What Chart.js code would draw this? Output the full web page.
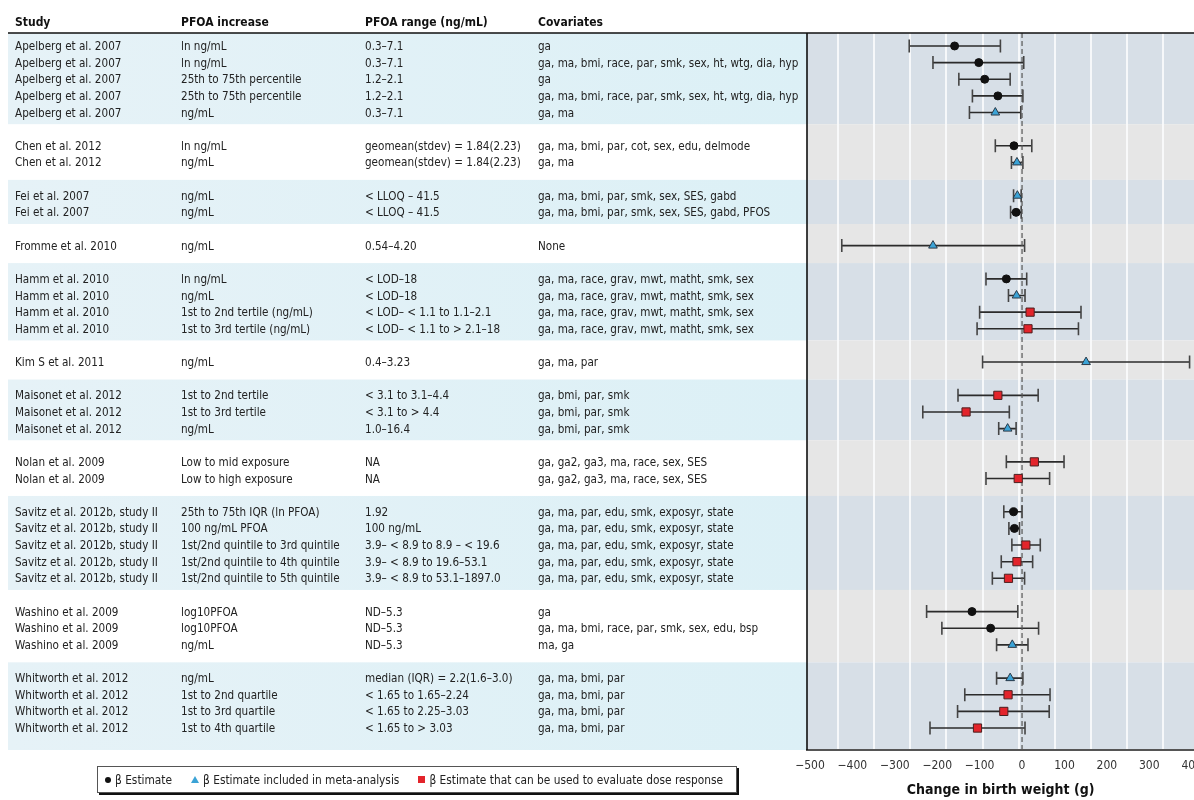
<!DOCTYPE html>
<html>
<head>
<meta charset="utf-8">
<script src="https://cdn.jsdelivr.net/npm/chart.js@4.4.1/dist/chart.umd.min.js"></script>
<style>
  body { margin: 0; background: #fff; }
  #wrap { position: relative; width: 1194px; height: 800px; overflow: hidden;
          font-family: "Liberation Sans Narrow", "Arial Narrow", "DejaVu Sans Condensed", sans-serif; }
  #chart { position: absolute; left: 0; top: 0; }
  .cell { position: absolute; font-size: 11.6px; color: #222; white-space: nowrap; line-height: 14px; }
  .head { font-weight: bold; color: #111; font-size: 12px; }
  #legend { position: absolute; left: 97px; top: 766px; width: 640px; height: 27px; box-sizing: border-box;
            border: 1px solid #555; box-shadow: 2px 2px 0 #111; background: #fff;
            display: flex; align-items: center; font-size: 11.8px; color: #222; padding-left: 7px; }
  #legend span.item { display: flex; align-items: center; margin-right: 19px; white-space: nowrap; }
  .g { display: inline-block; margin-right: 4px; }
  .g.est { width: 6px; height: 6px; border-radius: 50%; background: #111; }
  .g.meta { width: 0; height: 0; border-left: 4px solid transparent; border-right: 4px solid transparent; border-bottom: 7px solid #3ba3d6; }
  .g.dose { width: 7px; height: 7px; background: #e3242b; }
</style>
</head>
<body>
<div id="wrap">
  <canvas id="chart" width="1194" height="800"></canvas>
  <div id="table"></div>
  <div id="legend">
    <span class="item"><span class="g est"></span>β Estimate</span>
    <span class="item"><span class="g meta"></span>β Estimate included in meta-analysis</span>
    <span class="item"><span class="g dose"></span>β Estimate that can be used to evaluate dose response</span>
  </div>
</div>
<script>
// ---- data (one entry per row, top to bottom) ----
const studies = [
  'Apelberg et al. 2007', 'Apelberg et al. 2007', 'Apelberg et al. 2007', 'Apelberg et al. 2007', 'Apelberg et al. 2007',
  'Chen et al. 2012', 'Chen et al. 2012',
  'Fei et al. 2007', 'Fei et al. 2007',
  'Fromme et al. 2010',
  'Hamm et al. 2010', 'Hamm et al. 2010', 'Hamm et al. 2010', 'Hamm et al. 2010',
  'Kim S et al. 2011',
  'Maisonet et al. 2012', 'Maisonet et al. 2012', 'Maisonet et al. 2012',
  'Nolan et al. 2009', 'Nolan et al. 2009',
  'Savitz et al. 2012b, study II', 'Savitz et al. 2012b, study II', 'Savitz et al. 2012b, study II', 'Savitz et al. 2012b, study II', 'Savitz et al. 2012b, study II',
  'Washino et al. 2009', 'Washino et al. 2009', 'Washino et al. 2009',
  'Whitworth et al. 2012', 'Whitworth et al. 2012', 'Whitworth et al. 2012', 'Whitworth et al. 2012'
];
const increase = [
  'ln ng/mL', 'ln ng/mL', '25th to 75th percentile', '25th to 75th percentile', 'ng/mL',
  'ln ng/mL', 'ng/mL',
  'ng/mL', 'ng/mL',
  'ng/mL',
  'ln ng/mL', 'ng/mL', '1st to 2nd tertile (ng/mL)', '1st to 3rd tertile (ng/mL)',
  'ng/mL',
  '1st to 2nd tertile', '1st to 3rd tertile', 'ng/mL',
  'Low to mid exposure', 'Low to high exposure',
  '25th to 75th IQR (ln PFOA)', '100 ng/mL PFOA', '1st/2nd quintile to 3rd quintile', '1st/2nd quintile to 4th quintile', '1st/2nd quintile to 5th quintile',
  'log10PFOA', 'log10PFOA', 'ng/mL',
  'ng/mL', '1st to 2nd quartile', '1st to 3rd quartile', '1st to 4th quartile'
];
const ranges = [
  '0.3–7.1', '0.3–7.1', '1.2–2.1', '1.2–2.1', '0.3–7.1',
  'geomean(stdev) = 1.84(2.23)', 'geomean(stdev) = 1.84(2.23)',
  '< LLOQ – 41.5', '< LLOQ – 41.5',
  '0.54–4.20',
  '< LOD–18', '< LOD–18', '< LOD– < 1.1 to 1.1–2.1', '< LOD– < 1.1 to > 2.1–18',
  '0.4–3.23',
  '< 3.1 to 3.1–4.4', '< 3.1 to > 4.4', '1.0–16.4',
  'NA', 'NA',
  '1.92', '100 ng/mL', '3.9– < 8.9 to 8.9 – < 19.6', '3.9– < 8.9 to 19.6–53.1', '3.9– < 8.9 to 53.1–1897.0',
  'ND–5.3', 'ND–5.3', 'ND–5.3',
  'median (IQR) = 2.2(1.6–3.0)', '< 1.65 to 1.65–2.24', '< 1.65 to 2.25–3.03', '< 1.65 to > 3.03'
];
const covariates = [
  'ga', 'ga, ma, bmi, race, par, smk, sex, ht, wtg, dia, hyp', 'ga', 'ga, ma, bmi, race, par, smk, sex, ht, wtg, dia, hyp', 'ga, ma',
  'ga, ma, bmi, par, cot, sex, edu, delmode', 'ga, ma',
  'ga, ma, bmi, par, smk, sex, SES, gabd', 'ga, ma, bmi, par, smk, sex, SES, gabd, PFOS',
  'None',
  'ga, ma, race, grav, mwt, matht, smk, sex', 'ga, ma, race, grav, mwt, matht, smk, sex', 'ga, ma, race, grav, mwt, matht, smk, sex', 'ga, ma, race, grav, mwt, matht, smk, sex',
  'ga, ma, par',
  'ga, bmi, par, smk', 'ga, bmi, par, smk', 'ga, bmi, par, smk',
  'ga, ga2, ga3, ma, race, sex, SES', 'ga, ga2, ga3, ma, race, sex, SES',
  'ga, ma, par, edu, smk, exposyr, state', 'ga, ma, par, edu, smk, exposyr, state', 'ga, ma, par, edu, smk, exposyr, state', 'ga, ma, par, edu, smk, exposyr, state', 'ga, ma, par, edu, smk, exposyr, state',
  'ga', 'ga, ma, bmi, race, par, smk, sex, edu, bsp', 'ma, ga',
  'ga, ma, bmi, par', 'ga, ma, bmi, par', 'ga, ma, bmi, par', 'ga, ma, bmi, par'
];
// est = β estimate, meta = included in meta-analysis, dose = dose response
const kinds = [
  'est', 'est', 'est', 'est', 'meta',
  'est', 'meta',
  'meta', 'est',
  'meta',
  'est', 'meta', 'dose', 'dose',
  'meta',
  'dose', 'dose', 'meta',
  'dose', 'dose',
  'est', 'est', 'dose', 'dose', 'dose',
  'est', 'est', 'meta',
  'meta', 'dose', 'dose', 'dose'
];
// change in birth weight (g) and 95% CI
const estimate = [-159, -102, -88, -57, -63,  -19, -12,  -11, -14,  -210,  -37, -13, 19, 14,  151,
                  -57, -132, -34,  29, -9,  -20, -18, 9, -12, -32,  -118, -74, -23,  -28, -33, -43, -105];
const ciLow    = [-266, -210, -149, -117, -124,  -63, -25,  -20, -27,  -425,  -85, -32, -100, -106,  -93,
                  -151, -234, -55,  -37, -85,  -43, -31, -24, -49, -70,  -225, -189, -60,  -60, -135, -152, -217];
const ciHigh   = [-51, 4, -28, 2, -3,  23, 2,  -2, -2,  6,  11, 7, 139, 133,  395,
                  38, -30, -14,  99, 65,  0, -6, 43, 25, 6,  -10, 39, 14,  2, 66, 64, 7];
const xTicks = [-500, -400, -300, -200, -100, 0, 100, 200, 300, 400];
const headers = ['Study', 'PFOA increase', 'PFOA range (ng/mL)', 'Covariates'];

// ---- row slots: one blank slot between studies ----
const slots = [];
const groups = [];
studies.forEach((s, i) => {
  if (i === 0) { slots.push(0); groups.push({ first: 0, last: 0 }); return; }
  if (s !== studies[i - 1]) {
    slots.push(slots[i - 1] + 2);
    groups.push({ first: slots[i], last: slots[i] });
  } else {
    slots.push(slots[i - 1] + 1);
    groups[groups.length - 1].last = slots[i];
  }
});
const Y_MIN = -0.78, Y_MAX = 42.32;
const PLOT_RIGHT = 1194;

const FONT = '"Liberation Sans Narrow", "Arial Narrow", "DejaVu Sans Condensed", sans-serif';
Chart.defaults.font.family = FONT;

const markerStyle = {
  est:  { pointStyle: 'circle',   radius: 4,   bg: '#111',    border: '#111' },
  meta: { pointStyle: 'triangle', radius: 5,   bg: '#3ba3d6', border: '#2a3a48' },
  dose: { pointStyle: 'rect',     radius: 5.8, bg: '#e3242b', border: '#4a2020' },
};

function buildDatasets() {
  const datasets = [];
  Object.keys(markerStyle).forEach(k => {
    const st = markerStyle[k];
    datasets.push({
      type: 'scatter',
      data: estimate.map((v, i) => ({ x: v, y: slots[i] })).filter((p, i) => kinds[i] === k),
      pointStyle: st.pointStyle,
      pointRadius: st.radius,
      pointBackgroundColor: st.bg,
      pointBorderColor: st.border,
      pointBorderWidth: 1,
      order: 0,
    });
  });
  estimate.forEach((v, i) => {
    datasets.push({
      type: 'line',
      data: [{ x: ciLow[i], y: slots[i] }, { x: ciHigh[i], y: slots[i] }],
      borderColor: '#2b2b2b',
      borderWidth: 1.6,
      pointStyle: 'line',
      pointRotation: 90,
      pointRadius: 6.5,
      pointBorderColor: '#444',
      pointBorderWidth: 1.6,
      order: 2,
    });
  });
  datasets.push({
    type: 'line',
    data: [{ x: 0, y: Y_MIN }, { x: 0, y: Y_MAX }],
    borderColor: '#555',
    borderWidth: 1.2,
    borderDash: [5, 3],
    pointRadius: 0,
    order: 1,
  });
  return datasets;
}

// background bands for each study, across table and plot
const bandsPlugin = {
  id: 'bands',
  beforeDraw(chart) {
    const { ctx, chartArea: a, scales: { y } } = chart;
    ctx.save();
    ctx.fillStyle = '#fff';
    ctx.fillRect(0, 0, chart.width, chart.height);
    let top = a.top;
    groups.forEach((g, gi) => {
      const blue = gi % 2 === 0;
      const bottom = gi === groups.length - 1 ? a.bottom : y.getPixelForValue(g.last + (blue ? 0.7 : 1.05));
      if (blue) {
        const grad = ctx.createLinearGradient(8, 0, a.left, 0);
        grad.addColorStop(0, '#e6f2f7');
        grad.addColorStop(1, '#dcf0f6');
        ctx.fillStyle = grad;
        ctx.fillRect(8, top, a.left - 8, bottom - top);
      }
      ctx.fillStyle = blue ? '#d7dfe7' : '#e6e6e6';
      ctx.fillRect(a.left, top, a.right - a.left, bottom - top);
      top = bottom;
    });
    ctx.restore();
  },
  afterDraw(chart) {
    const { ctx, chartArea: a } = chart;
    ctx.save();
    ctx.strokeStyle = '#111';
    ctx.lineWidth = 1.6;
    ctx.beginPath();
    ctx.moveTo(8, a.top); ctx.lineTo(a.right, a.top);
    ctx.moveTo(a.left, a.top); ctx.lineTo(a.left, a.bottom);
    ctx.stroke();
    ctx.restore();
  }
};

function makeChart(canvas) {
  return new Chart(canvas, {
    type: 'scatter',
    data: { datasets: buildDatasets() },
    plugins: [bandsPlugin],
    options: {
      responsive: false,
      animation: false,
      layout: { autoPadding: false, padding: { left: 807, top: 33, right: 0, bottom: 0 } },
      plugins: { legend: { display: false }, tooltip: { enabled: false } },
      scales: {
        x: {
          type: 'linear', min: -507, max: 406,
          afterBuildTicks: s => { s.ticks = xTicks.map(v => ({ value: v })); },
          afterFit: s => { s.height = 50; },
          grid: { display: false, drawTicks: false },
          border: { display: true, color: '#555', width: 2 },
          ticks: { color: '#333', font: { size: 12 }, padding: 9, maxRotation: 0,
                   callback: v => String(v).replace('-', '\u2212') },
          title: { display: true, text: 'Change in birth weight (g)', color: '#111',
                   font: { size: 14, weight: 'bold' }, padding: { top: 0, bottom: 1 } },
        },
        // the white background rules sit on their own even spacing, not on the value ticks
        x2: {
          type: 'linear', position: 'bottom', min: -0.859, max: 9.861,
          afterBuildTicks: s => { s.ticks = Array.from({ length: 10 }, (_, k) => ({ value: k })); },
          afterFit: s => { s.height = 0; },
          ticks: { display: false },
          grid: { color: 'rgba(250,251,252,0.9)', lineWidth: 2, drawTicks: false },
          border: { display: false },
        },
        y: { type: 'linear', display: false, reverse: true, min: Y_MIN, max: Y_MAX },
      },
    },
  });
}

// the last tick label adds right padding; widen the canvas so the plot still reaches the page edge
const canvas = document.getElementById('chart');
let chart = makeChart(canvas);
const extra = Math.round(PLOT_RIGHT - chart.chartArea.right);
if (extra > 0) {
  chart.destroy();
  canvas.width = 1194 + extra;
  canvas.style.width = (1194 + extra) + 'px';
  canvas.style.height = '800px';
  chart = makeChart(canvas);
}

// ---- table text, placed on the chart's own y scale ----
const colX = [15, 181, 365, 538];
const table = document.getElementById('table');
function cell(text, x, yc, cls) {
  const d = document.createElement('div');
  d.className = 'cell' + (cls ? ' ' + cls : '');
  d.textContent = text;
  d.style.left = x + 'px';
  d.style.top = (yc - 7) + 'px';
  table.appendChild(d);
}
headers.forEach((h, c) => cell(h, colX[c], 22, 'head'));
studies.forEach((s, i) => {
  const yc = chart.scales.y.getPixelForValue(slots[i]);
  [s, increase[i], ranges[i], covariates[i]].forEach((t, c) => cell(t, colX[c], yc));
});
</script>
</body>
</html>
